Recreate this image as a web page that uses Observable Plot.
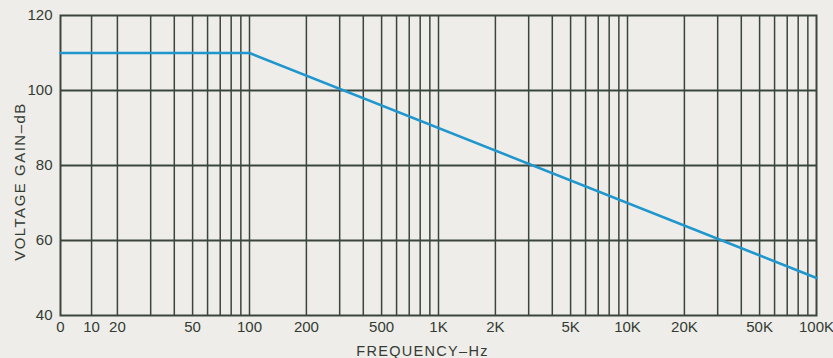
<!DOCTYPE html>
<html>
<head>
<meta charset="utf-8">
<script src="https://cdn.jsdelivr.net/npm/d3@7"></script>
<script src="https://cdn.jsdelivr.net/npm/@observablehq/plot@0.6"></script>
<style>
  html, body { margin: 0; padding: 0; background: #eeede9; }
  #chart svg { display: block; }
</style>
</head>
<body>
<div id="chart"></div>
<script>
// Response curve: flat to the break, then −20 dB/decade
const curveFreq = [10, 100, 100000];
const curveGain = [110, 110, 50];

// Vertical grid lines (Hz) as printed on the log paper
const gridFreqs = [14.6, 20, 30, 40, 50, 60, 70, 80, 90, 100,
  200, 300, 400, 500, 600, 700, 800, 900, 1000,
  2000, 3000, 4000, 5000, 6000, 7000, 8000, 9000, 10000,
  20000, 30000, 40000, 50000, 60000, 70000, 80000, 90000];

// X tick positions and their printed labels
const tickFreqs = [10, 14.6, 20, 50, 100, 200, 500, 1000, 2000, 5000, 10000, 20000, 50000, 100000];
const tickLabels = ["0", "10", "20", "50", "100", "200", "500", "1K", "2K", "5K", "10K", "20K", "50K", "100K"];

// Y ticks (dB)
const gainTicks = [40, 60, 80, 100, 120];
const gainGrid = [60, 80, 100];

const xTitle = "FREQUENCY\u2013Hz";
const yTitle = "VOLTAGE GAIN\u2013dB";

const curve = curveFreq.map((f, i) => ({f, g: curveGain[i]}));
const xTicks = tickFreqs.map((f, i) => ({f, label: tickLabels[i]}));

const ink = "#3a463b";
const textInk = "#343b33";

const chart = Plot.plot({
  width: 833,
  height: 358,
  marginLeft: 60,
  marginRight: 17,
  marginTop: 15,
  marginBottom: 43,
  style: {
    background: "#eeede9",
    color: textInk,
    fontFamily: "'Liberation Sans', Arial, Helvetica, sans-serif",
    fontSize: "15px"
  },
  x: {type: "log", domain: [10, 100000], axis: null},
  y: {domain: [40, 120]},
  marks: [
    Plot.ruleX(gridFreqs, {x: d => d, stroke: ink, strokeWidth: 1.5}),
    Plot.ruleY(gainGrid, {y: d => d, stroke: ink, strokeWidth: 2}),
    Plot.frame({stroke: ink, strokeWidth: 2}),
    Plot.line(curve, {x: "f", y: "g", stroke: "#1f96cd", strokeWidth: 2.6}),
    Plot.text(xTicks, {x: "f", text: "label", frameAnchor: "bottom", dy: 6,
      textAnchor: "middle", lineAnchor: "top", fontSize: 15, fill: textInk}),
    Plot.axisY({ticks: gainTicks, tickSize: 0, tickPadding: 8, label: null}),
    Plot.text([yTitle], {text: d => d, frameAnchor: "left", dx: -40, dy: 16, rotate: -90,
      textAnchor: "middle", lineAnchor: "middle", fontSize: 15, fill: textInk}),
    Plot.text([xTitle], {text: d => d, frameAnchor: "bottom", dx: -16, dy: 36,
      textAnchor: "middle", lineAnchor: "middle", fontSize: 14.5, fill: textInk})
  ]
});

chart.querySelectorAll("text").forEach(t => {
  const s = t.textContent;
  if (s === xTitle) t.style.letterSpacing = "1.3px";
  if (s === yTitle) t.style.letterSpacing = "1.5px";
});

document.getElementById("chart").appendChild(chart);
</script>
</body>
</html>
